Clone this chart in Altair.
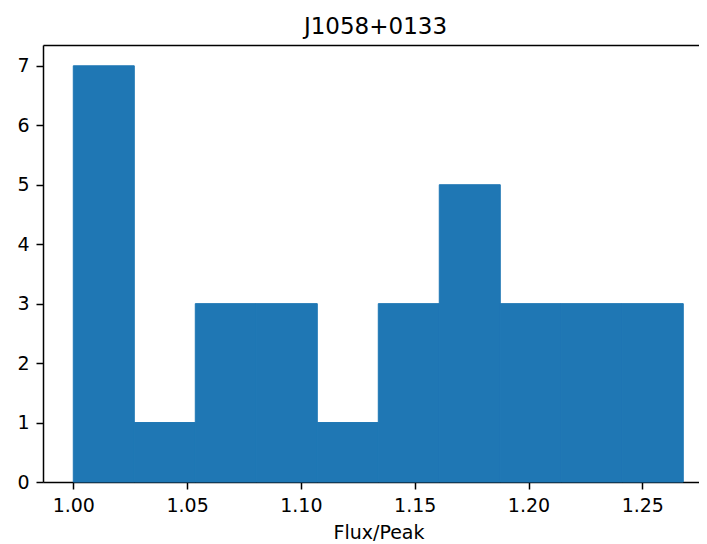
import altair as alt
import pandas as pd

# Histogram of Flux/Peak for J1058+0133 (10 bins)
bin_left = [1.0000, 1.0268, 1.0536, 1.0804, 1.1072, 1.1340, 1.1608, 1.1876, 1.2144, 1.2412]
bin_right = [1.0268, 1.0536, 1.0804, 1.1072, 1.1340, 1.1608, 1.1876, 1.2144, 1.2412, 1.2680]
counts = [7, 1, 3, 3, 1, 3, 5, 3, 3, 3]
x_ticks = [1.00, 1.05, 1.10, 1.15, 1.20, 1.25]
y_ticks = [0, 1, 2, 3, 4, 5, 6, 7]

df = pd.DataFrame({"left": bin_left, "right": bin_right, "count": counts, "base": [0] * len(counts)})

FONT = "DejaVu Sans"
xscale = alt.Scale(domain=[0.98669, 1.27491], nice=False, zero=False)
yscale = alt.Scale(domain=[0, 7.35], nice=False, zero=False)

bars = alt.Chart(df).mark_rect(color="#1f77b4", stroke="#1f77b4", strokeWidth=1).encode(
    x=alt.X("left:Q", scale=xscale,
            axis=alt.Axis(values=x_ticks, format=".2f", title="Flux/Peak",
                          titleX=335.5, titleY=56, titleAlign="center",
                          titleBaseline="alphabetic")),
    x2="right:Q",
    y=alt.Y("base:Q", scale=yscale,
            axis=alt.Axis(values=y_ticks, format="d", title=None)),
    y2="count:Q",
)

top_spine = alt.Chart(df).mark_point(opacity=0).encode(
    x=alt.X("left:Q", scale=xscale,
            axis=alt.Axis(orient="top", labels=False, ticks=False, title=None)),
)

chart = alt.layer(bars, top_spine).resolve_axis(x="independent").properties(
    width=656,
    height=437,
    autosize=alt.AutoSizeParams(type="none"),
    padding={"left": 35, "top": 37, "right": 0, "bottom": 62},
    title=alt.TitleParams("J1058+0133", font=FONT, fontSize=23, fontWeight="normal",
                          color="black", anchor="middle", baseline="alphabetic",
                          offset=-12, dx=4.5),
).configure_view(stroke=None).configure_axis(
    grid=False,
    labelFont=FONT, labelFontSize=19, labelColor="black",
    titleFont=FONT, titleFontSize=19, titleColor="black", titleFontWeight="normal",
    tickColor="black", tickSize=7, tickWidth=1.5,
    domainColor="black", domainWidth=1.5,
    labelPadding=7,
)

chart.save("out.html", embed_options={"renderer": "svg", "actions": False})
